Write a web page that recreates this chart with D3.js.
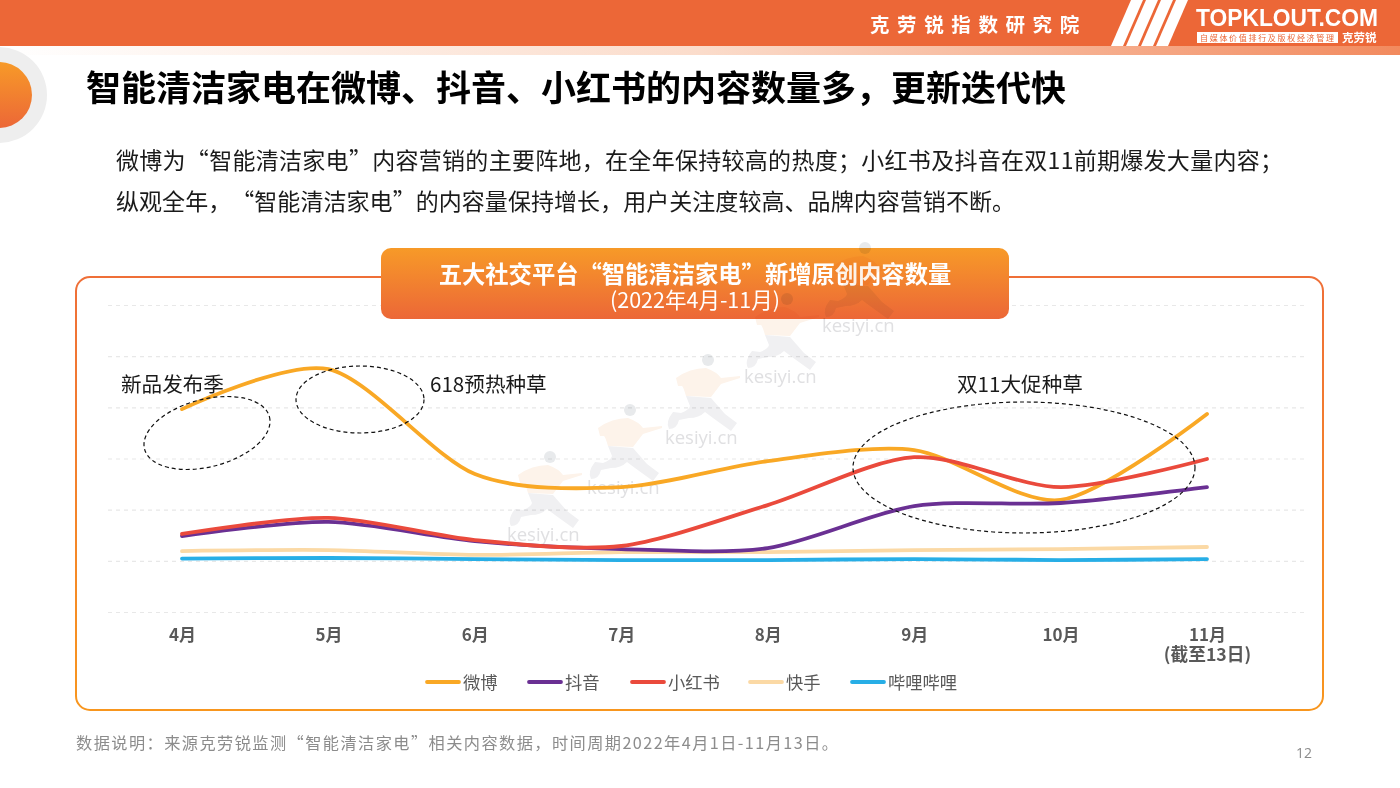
<!DOCTYPE html>
<html><head><meta charset="utf-8">
<script src="https://cdn.jsdelivr.net/npm/d3@7/dist/d3.min.js"></script>
<style>html,body{margin:0;padding:0;background:#fff}svg{display:block}text{font-family:"Noto Sans CJK SC","Noto Sans",sans-serif;text-spacing-trim:space-all}</style>
</head><body><svg id="c" width="1400" height="788"></svg>
<script>
const months=["4月","5月","6月","7月","8月","9月","10月","11月"];
const weibo=[39650,47450,26950,24400,29500,31650,21900,38700];
const douyin=[14850,17600,13850,12300,12500,20700,21300,24400];
const xiaohongshu=[15250,18400,14050,12900,20900,30250,24400,29900];
const kuaishou=[11900,12100,11150,11700,11700,12100,12300,12700];
const bilibili=[10450,10550,10350,10150,10150,10350,10150,10350];
const seriesNames=["微博","抖音","小红书","快手","哔哩哔哩"];
const seriesColors=["#F9A825","#6A3093","#EA4A3C","#FBD9A5","#27AEE6"];
const seriesValues=[weibo,douyin,xiaohongshu,kuaishou,bilibili];
const drawOrder=[3,4,0,1,2];
const yTicks=[0,10000,20000,30000,40000,50000,60000];

const svg=d3.select("#c");
const defs=svg.append("defs");
function grad(id,stops,attrs){const g=defs.append("linearGradient").attr("id",id);
  Object.entries(attrs).forEach(([k,v])=>g.attr(k,v));
  stops.forEach(([o,c])=>g.append("stop").attr("offset",o).attr("stop-color",c));}
grad("v",[[0,"#F79A28"],[1,"#EC6737"]],{x1:0,y1:0,x2:0,y2:1});
grad("strip",[[0,"#FFFFFF"],[0.5,"#FBDCCB"],[1,"#F28A5E"]],{x1:0,y1:0,x2:1,y2:0});
grad("card",[[0,"#EF6F38"],[1,"#F8961E"]],{gradientUnits:"userSpaceOnUse",x1:0,y1:277,x2:0,y2:710});

// header
svg.append("rect").attr("width",1400).attr("height",46).attr("fill","#EC6737");
svg.append("rect").attr("y",46).attr("width",1400).attr("height",9).attr("fill","url(#strip)");
svg.append("text").attr("x",870).attr("y",32).attr("fill","#fff").attr("font-size",19.5).attr("font-weight",700).attr("letter-spacing",7.6).text("克劳锐指数研究院");
[1111,1126,1141,1156].forEach(x=>svg.append("path").attr("fill","#fff").attr("d",`M${x} 46L${x+20} 0H${x+32}L${x+12} 46Z`));
svg.append("text").attr("x",1196).attr("y",26).attr("fill","#fff").attr("font-size",24).attr("font-weight",700).attr("textLength",182).attr("lengthAdjust","spacingAndGlyphs").style("font-family","'Liberation Sans'").text("TOPKLOUT.COM");
svg.append("rect").attr("x",1197).attr("y",32).attr("width",141).attr("height",11).attr("fill","#fff");
svg.append("text").attr("x",1200).attr("y",41).attr("fill","#EC6737").attr("font-size",8).attr("textLength",134).text("自媒体价值排行及版权经济管理");
svg.append("text").attr("x",1342).attr("y",42).attr("fill","#fff").attr("font-size",11.5).attr("font-weight",700).text("克劳锐");

// corner badge
svg.append("circle").attr("cx",-1).attr("cy",95).attr("r",48).attr("fill","#EEEEEE");
svg.append("circle").attr("cx",-1).attr("cy",95).attr("r",33).attr("fill","url(#v)");

// headline + body
svg.append("text").attr("x",86).attr("y",101).attr("font-size",35).attr("font-weight",700).attr("fill","#000").text("智能清洁家电在微博、抖音、小红书的内容数量多，更新迭代快");
svg.append("text").attr("x",116).attr("y",169).attr("font-size",23).attr("fill","#1a1a1a").attr("textLength",1167).text("微博为“智能清洁家电”内容营销的主要阵地，在全年保持较高的热度；小红书及抖音在双11前期爆发大量内容；");
svg.append("text").attr("x",116).attr("y",210).attr("font-size",23).attr("fill","#1a1a1a").attr("textLength",899).text("纵观全年，“智能清洁家电”的内容量保持增长，用户关注度较高、品牌内容营销不断。");

// card
svg.append("rect").attr("x",76).attr("y",277).attr("width",1247).attr("height",433).attr("rx",14).attr("fill","#fff").attr("stroke","url(#card)").attr("stroke-width",2);

// scales
const x=d3.scalePoint().domain(months).range([182,1207]);
const y=d3.scaleLinear().domain([0,60000]).range([612,305]);

// grid from axis
const gridG=svg.append("g").attr("transform","translate(108,0)")
  .call(d3.axisLeft(y).tickValues(yTicks).tickSize(-1198).tickFormat(""));
gridG.select(".domain").remove();
gridG.selectAll(".tick line").attr("stroke","#E8E8E8").attr("stroke-width",1.2).attr("stroke-dasharray","4 4");

// title plate
svg.append("rect").attr("x",381).attr("y",248).attr("width",628).attr("height",71).attr("rx",10).attr("fill","url(#v)");
const plate=svg.append("text").attr("text-anchor","middle").attr("fill","#fff");
plate.append("tspan").attr("x",695).attr("y",283).attr("font-size",23.3).attr("font-weight",700).text("五大社交平台“智能清洁家电”新增原创内容数量");
plate.append("tspan").attr("x",695).attr("y",308).attr("font-size",21.5).text("(2022年4月-11月)");

// watermarks
[[507,541],[587,494],[665,444],[744,383],[822,332]].forEach(([wx,wy])=>{
  const g=svg.append("g").attr("transform",`translate(${wx},${wy})`).style("mix-blend-mode","multiply");
  g.append("circle").attr("cx",43).attr("cy",-84).attr("r",6).attr("fill","#E8EAEC");
  g.append("path").attr("fill","#FDF3EA").attr("d","M11 -66Q25 -76 41 -76Q52 -72 56 -66L75 -68L75 -66L56 -60L46 -47L21 -48Q18 -58 17 -58L13 -58Z");
  g.append("path").attr("fill","#F0F0F2").attr("d","M21 -48L46 -46L60 -30L72 -21L66 -13L48 -26L40 -32Q34 -26 24 -26L14 -24Q12 -15 4 -15Q0 -22 8 -32L16 -31Q24 -34 25 -38Z");
  g.append("text").attr("x",0).attr("y",0).attr("font-size",18.5).attr("fill","#E0E0E2").style("font-family","'Open Sans'").text("kesiyi.cn");
});

// lines
const line=d3.line().x((d,i)=>x(months[i])).y(d=>y(d)).curve(d3.curveCardinal.tension(0.15));
drawOrder.forEach(i=>svg.append("path").attr("d",line(seriesValues[i])).attr("fill","none")
  .attr("stroke",seriesColors[i]).attr("stroke-width",3.8).attr("stroke-linecap","round"));

// x axis
const xG=svg.append("g").attr("transform","translate(0,612)").call(d3.axisBottom(x).tickSize(0).tickPadding(0));
xG.select(".domain").remove();
xG.selectAll("text").attr("y",29).attr("dy",0).attr("font-size",17).attr("font-weight",700).attr("fill","#595959").style("font-family","'Noto Sans CJK SC'");
xG.selectAll("text").filter(d=>d==="11月").append("tspan").attr("x",0).attr("dy",20).attr("font-size",17.7).text("(截至13日)");

// annotations
[["新品发布季",121,392],["618预热种草",430,392],["双11大促种草",957,392]].forEach(([t,ax,ay])=>
  svg.append("text").attr("x",ax).attr("y",ay).attr("font-size",20.6).attr("fill","#1a1a1a").text(t));
[[207,433,64.5,33.8,-14.5],[360,399.5,64,33.5,0],[1024,467.5,171,65.5,0]].forEach(([cx,cy,rx,ry,r])=>
  svg.append("ellipse").attr("cx",cx).attr("cy",cy).attr("rx",rx).attr("ry",ry)
    .attr("transform",`rotate(${r} ${cx} ${cy})`).attr("fill","none").attr("stroke","#111").attr("stroke-width",1.2).attr("stroke-dasharray","4 3"));

// legend
const legendX=[427,529,632,750,852];
seriesNames.forEach((n,i)=>{
  svg.append("line").attr("x1",legendX[i]).attr("x2",legendX[i]+32).attr("y1",682).attr("y2",682).attr("stroke",seriesColors[i]).attr("stroke-width",3.8).attr("stroke-linecap","round");
  svg.append("text").attr("x",legendX[i]+36).attr("y",689).attr("font-size",17.3).attr("fill","#595959").text(n);
});

// footer
svg.append("text").attr("x",76).attr("y",749).attr("font-size",16.2).attr("fill","#8C8C8C").attr("textLength",762).text("数据说明：来源克劳锐监测“智能清洁家电”相关内容数据，时间周期2022年4月1日-11月13日。");
svg.append("text").attr("x",1296).attr("y",758).attr("font-size",14).attr("fill","#8C8C8C").style("font-family","'Open Sans'").text("12");
</script></body></html>
